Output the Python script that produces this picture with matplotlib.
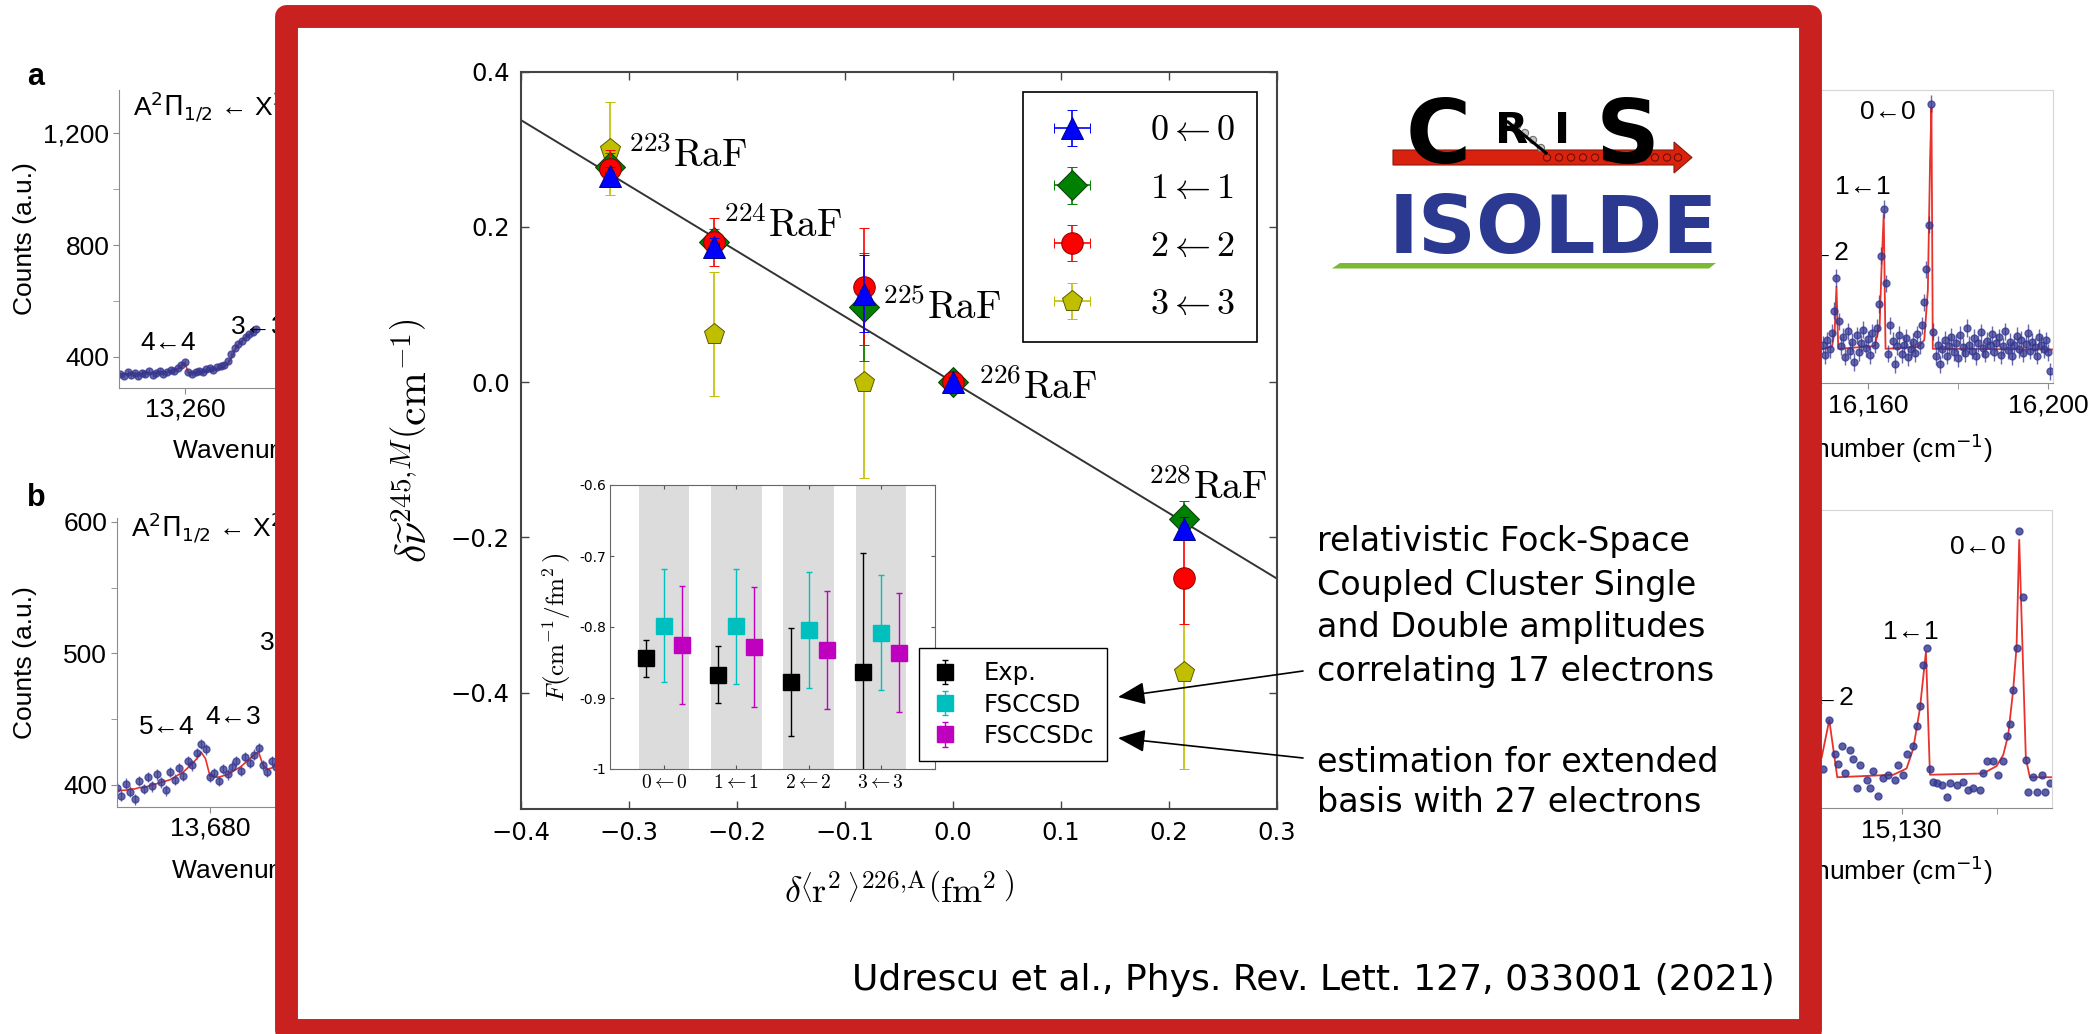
import numpy as np
import matplotlib
matplotlib.use("Agg")
import matplotlib.pyplot as plt
from matplotlib.patches import Rectangle, Polygon, Circle

# ---------------- isotope shifts of RaF vs. change in mean-square charge radius
isotopes = ["223", "224", "225", "226", "228"]
drms = [-0.318, -0.221, -0.082, 0.0, 0.214]          # delta<r^2>^{226,A} (fm^2)
drms_err = [0.004, 0.004, 0.004, 0.004, 0.004]
shift_00 = [0.265, 0.174, 0.114, 0.0, -0.189]
err_00 = [0.012, 0.012, 0.050, 0.006, 0.015]
shift_11 = [0.277, 0.181, 0.097, 0.0, -0.176]
err_11 = [0.018, 0.016, 0.070, 0.006, 0.023]
shift_22 = [0.275, 0.181, 0.123, 0.0, -0.252]
err_22 = [0.024, 0.031, 0.075, 0.008, 0.060]
shift_33 = [0.301, 0.062, 0.0, 0.0, -0.374]
err_33 = [0.060, 0.080, 0.123, 0.008, 0.125]
F_fit = -0.844                                       # slope of the straight line
raf_label_x = [-0.301, -0.213, -0.066, 0.023, 0.181]
raf_label_y = [0.277, 0.187, 0.082, -0.022, -0.150]

# ---------------- inset: field-shift factor F per vibrational band
bands = [r"$0\leftarrow0$", r"$1\leftarrow1$", r"$2\leftarrow2$", r"$3\leftarrow3$"]
F_exp = [-0.844, -0.867, -0.877, -0.863]
F_exp_err = [0.026, 0.040, 0.076, 0.167]
F_sd = [-0.798, -0.799, -0.804, -0.808]
F_sd_err = [0.080, 0.081, 0.082, 0.081]
F_sdc = [-0.825, -0.828, -0.832, -0.836]
F_sdc_err = [0.083, 0.084, 0.083, 0.084]

# ---------------- background spectra (counts vs wavenumber)
# panel a, left part: scan start / step, counts and fit
al_start, al_step = 13251.0, 0.5
al_counts = [338, 332, 345, 336, 341, 330, 343, 337, 348, 335,
             342, 350, 338, 346, 352, 349, 360, 372, 380, 345,
             338, 347, 350, 344, 355, 358, 352, 362, 368, 372,
             385, 410, 432, 445, 458, 470, 482, 490, 500]
al_fit = [338, 338, 339, 339, 340, 340, 341, 341, 342, 342,
          343, 344, 345, 346, 348, 351, 356, 364, 378, 342,
          342, 343, 345, 346, 348, 350, 352, 355, 359, 364,
          374, 395, 425, 444, 458, 470, 480, 490, 500]
# panel b, left part
bl_start, bl_step = 13669.5, 0.5
bl_counts = [398, 392, 401, 395, 389, 403, 397, 406, 399, 408,
             402, 396, 410, 404, 413, 407, 418, 415, 424, 431,
             427, 406, 409, 403, 412, 408, 414, 418, 411, 421,
             417, 423, 428, 415, 410, 418, 414]
bl_fit = [396, 396, 396, 397, 397, 398, 398, 399, 400, 401,
          402, 403, 404, 406, 408, 410, 413, 416, 420, 425,
          420, 407, 406, 406, 407, 408, 410, 412, 414, 417,
          420, 423, 425, 415, 412, 413, 415]
# panel a, right part
ar_start, ar_step = 16150.0, 0.5
ar_counts = [262, 231, 275, 248, 296, 360, 455, 330, 258, 284,
             227, 301, 245, 270, 212, 289, 240, 266, 305, 251,
             278, 232, 296, 262, 310, 380, 520, 655, 440, 236,
             318, 274, 205, 258, 290, 234, 262, 281, 226, 249,
             270, 238, 292, 260, 318, 385, 480, 610, 960, 300,
             228, 262, 205, 248, 276, 230, 259, 284, 241, 268,
             222, 290, 255, 238, 310, 262, 244, 281, 229, 266,
             298, 251, 236, 274, 260, 292, 241, 268, 283, 232,
             257, 301, 246, 270, 228, 262, 288, 249, 276, 238,
             265, 296, 244, 271, 256, 230, 283, 262, 248, 275,
             240, 185]
ar_fit_x = [16149.5, 16152.0, 16152.6, 16153.0, 16153.4, 16161.5, 16162.6,
            16163.0, 16163.5, 16163.9, 16171.0, 16172.5, 16173.3, 16173.8,
            16174.1, 16174.4, 16201.1]
ar_fit_y = [248, 256, 300, 430, 250, 258, 320, 480, 640, 250, 255, 275,
            420, 800, 950, 250, 248]
# panel b, right part
br_x = [15125.84, 15126.19, 15126.49, 15126.66, 15126.84, 15127.02, 15127.28,
        15127.45, 15127.63, 15127.81, 15128.16, 15128.33, 15128.51, 15128.77,
        15129.03, 15129.29, 15129.65, 15129.82, 15130.08, 15130.26, 15130.61,
        15130.79, 15130.96, 15131.14, 15131.32, 15131.49, 15131.66, 15131.84,
        15132.11, 15132.37, 15132.54, 15132.89, 15133.24, 15133.51, 15133.77,
        15134.12, 15134.29, 15134.47, 15134.82, 15135.08, 15135.35, 15135.53,
        15135.70, 15135.87, 15136.05, 15136.19, 15136.37, 15136.54, 15136.66,
        15136.93, 15137.11, 15137.37, 15137.54, 15137.81]
br_counts = [412, 451, 424, 416, 430, 408, 427, 420, 396, 415, 403, 396, 410,
             390, 404, 407, 403, 415, 407, 424, 430, 446, 462, 495, 509, 412,
             401, 400, 399, 389, 400, 399, 401, 395, 396, 395, 408, 418, 418,
             407, 418, 438, 448, 475, 509, 603, 550, 419, 393, 405, 393, 407,
             393, 400]
br_fit_x = [15125.79, 15126.19, 15126.61, 15129.56, 15130.26, 15130.61,
            15130.96, 15131.28, 15131.49, 15134.29, 15135.00, 15135.35,
            15135.61, 15135.87, 15136.05, 15136.19, 15136.54, 15136.75,
            15137.89]
br_fit_y = [421, 451, 405, 407, 412, 428, 460, 506, 407, 408, 414, 423, 439,
            475, 510, 596, 420, 405, 405]

# peak labels: (text, x, y)
al_peaks = [("4←4", 13257.7, 449), ("3←3", 13270.3, 506)]
bl_peaks = [("5←4", 13675.1, 444), ("4←3", 13682.6, 452), ("3←2", 13688.8, 508)]
ar_peaks = [("0←0", 16164.4, 937), ("1←1", 16158.9, 720), ("2←2", 16156.0, 528)]
br_peaks = [("0←0", 15134.0, 590), ("1←1", 15130.5, 522), ("2←2", 15127.5, 469)]

W, H = 2096, 1034
plt.rcParams["mathtext.fontset"] = "cm"
fig = plt.figure(figsize=(W / 100, H / 100), dpi=100)
fig.patch.set_facecolor("white")


def px_axes(x0, y0, x1, y1, z):
    # axes placed by pixel box (top-left origin)
    return fig.add_axes([x0 / W, 1 - y1 / H, (x1 - x0) / W, (y1 - y0) / H], zorder=z)


sans = ["Liberation Sans", "DejaVu Sans"]
pts_col = "#34378f"
fit_col = "#e8322b"


def spectrum(box, left_side, xt, xtl, xminor, xlim, ylim):
    a = px_axes(*box, z=0)
    a.set_facecolor("none")
    for s in ("top", "right"):
        a.spines[s].set_visible(not left_side)
        a.spines[s].set_color("#d5d5d5")
    for s in ("left", "bottom"):
        a.spines[s].set_color("#8c8c8c")
    a.set_xlim(*xlim)
    a.set_ylim(*ylim)
    a.set_xticks(xt, xtl, fontfamily=sans, fontsize=19)
    a.set_xticks(xminor, minor=True)
    a.tick_params(which="both", direction="out", length=4, color="#8c8c8c", pad=3)
    a.set_xlabel("Wavenumber (cm$^{-1}$)", fontfamily=sans, fontsize=19,
                 math_fontfamily="dejavusans")
    return a


def peak_labels(a, peaks, ha="center"):
    for txt, x, y in peaks:
        a.text(x, y, txt, fontfamily=sans, fontsize=19, ha=ha, va="center")


# panel a, left
a1 = spectrum((119, 90, 471, 388), True, [13260, 13300], ["13,260", "13,300"],
              [13280], (13250.8, 13290.8), (288, 1355))
a1.set_yticks([400, 800, 1200], ["400", "800", "1,200"], fontfamily=sans, fontsize=19)
a1.set_yticks([600, 1000], minor=True)
x_al = al_start + al_step * np.arange(len(al_counts))
a1.errorbar(x_al, al_counts, yerr=8, fmt="o", ms=5, color=pts_col, alpha=0.75,
            elinewidth=1)
a1.plot(x_al, al_fit, color=fit_col, lw=1.2)
peak_labels(a1, al_peaks)
a1.set_ylabel("Counts (a.u.)", fontfamily=sans, fontsize=19)
a1.yaxis.set_label_coords(-0.233, 0.5)
a1.xaxis.set_label_coords(0.5, -0.15)
a1.text(0.04, 0.943, "A$^2\\Pi_{1/2}$ ← X$^2\\Sigma^+$", transform=a1.transAxes,
        fontfamily=sans, fontsize=19, math_fontfamily="dejavusans", va="center")
fig.text(27 / W, 1 - 77 / H, "a", fontfamily=sans, fontsize=22, fontweight="bold",
         va="center")

# panel b, left
b1 = spectrum((117, 518, 471, 806.7), True, [13680, 13700], ["13,680", "13,700"],
              [13690], (13669.5, 13709.5), (383.5, 603))
b1.set_yticks([400, 500, 600], ["400", "500", "600"], fontfamily=sans, fontsize=19)
b1.set_yticks([450, 550], minor=True)
x_bl = bl_start + bl_step * np.arange(len(bl_counts))
b1.errorbar(x_bl, bl_counts, yerr=4, fmt="o", ms=5, color=pts_col, alpha=0.75,
            elinewidth=1)
b1.plot(x_bl, bl_fit, color=fit_col, lw=1.2)
peak_labels(b1, bl_peaks)
b1.set_ylabel("Counts (a.u.)", fontfamily=sans, fontsize=19)
b1.yaxis.set_label_coords(-0.226, 0.5)
b1.xaxis.set_label_coords(0.5, -0.16)
b1.text(0.04, 0.966, "A$^2\\Pi_{1/2}$ ← X$^2\\Sigma^+$", transform=b1.transAxes,
        fontfamily=sans, fontsize=19, math_fontfamily="dejavusans", va="center")
fig.text(27 / W, 1 - 498 / H, "b", fontfamily=sans, fontsize=22, fontweight="bold",
         va="center")

# panel a, right
a2 = spectrum((1687, 90, 2053, 383.3), False, [16120, 16160, 16200],
              ["16,120", "16,160", "16,200"], [16140, 16180], (16119.8, 16201.1),
              (150, 1000))
a2.set_yticks([])
x_ar = ar_start + ar_step * np.arange(len(ar_counts))
a2.plot(ar_fit_x, ar_fit_y, color=fit_col, lw=1.3)
a2.errorbar(x_ar, ar_counts, yerr=25, fmt="o", ms=5, color=pts_col, alpha=0.75,
            elinewidth=1)
peak_labels(a2, ar_peaks[:2])
peak_labels(a2, ar_peaks[2:], ha="right")
a2.xaxis.set_label_coords(0.5, -0.165)

# panel b, right
b2 = spectrum((1687, 510, 2051.7, 808.3), False, [15120, 15130],
              ["15,120", "15,130"], [15125, 15135], (15118.7, 15137.9), (380, 620))
b2.set_yticks([])
b2.plot(br_fit_x, br_fit_y, color=fit_col, lw=1.3)
b2.plot(br_x, br_counts, "o", ms=5, color=pts_col, alpha=0.8)
peak_labels(b2, br_peaks[:2])
peak_labels(b2, br_peaks[2:], ha="right")
b2.xaxis.set_label_coords(0.5, -0.153)

# ---------------- white panel with red frame, logo and notes
bg = px_axes(0, 0, W, H, z=1)
bg.set_xlim(0, W)
bg.set_ylim(H, 0)
bg.axis("off")
bg.add_patch(Rectangle((285.5, 15.5), 1524, 1014, fc="white", ec="#c8211f",
                       lw=16.5, joinstyle="round"))

# CRIS logo
bg.add_patch(Polygon([(1393, 150), (1674, 150), (1674, 142), (1692, 157.5),
                      (1674, 173), (1674, 165), (1393, 165)],
                     fc="#d8220e", ec="#8a1a0a", lw=0.8))
bg.text(1438, 163, "C", fontsize=64, fontweight="heavy", ha="center",
        va="baseline", color="k")
bg.text(1512, 143, "R", fontsize=31, fontweight="heavy", ha="center",
        va="baseline", color="k")
bg.text(1562, 143, "I", fontsize=31, fontweight="heavy", ha="center",
        va="baseline", color="k")
bg.text(1628, 163, "S", fontsize=64, fontweight="heavy", ha="center",
        va="baseline", color="k")
bg.plot([1508, 1546], [122, 153], color="k", lw=2.2)
for cx, cy in [(1517, 126), (1525, 133), (1533, 140), (1541, 148)]:
    bg.add_patch(Circle((cx, cy), 3.6, fc="#c4c4c4", ec="#707070", lw=0.8))
for cx in [1547, 1559, 1571, 1583, 1595, 1607, 1619, 1631, 1643, 1655, 1667, 1678]:
    bg.add_patch(Circle((cx, 157.5), 3.6, fc="#e0260f", ec="#6e0e04", lw=0.8))

# ISOLDE logo
bg.text(1553, 253, "ISOLDE", fontsize=58, fontweight="heavy", ha="center",
        va="baseline", color="#2b3990")
bg.add_patch(Polygon([(1332, 268.5), (1340, 263), (1716, 263), (1709, 268.5)],
                     fc="#7ab932", ec="none"))

note_font = dict(fontsize=24, color="k", ha="left", va="baseline")
for i, line in enumerate(["relativistic Fock-Space", "Coupled Cluster Single",
                          "and Double amplitudes", "correlating 17 electrons"]):
    bg.text(1317, 551.5 + 43 * i, line, **note_font)
for i, line in enumerate(["estimation for extended", "basis with 27 electrons"]):
    bg.text(1317, 771.5 + 40 * i, line, **note_font)
bg.text(1775, 990, "Udrescu et al., Phys. Rev. Lett. 127, 033001 (2021)",
        fontsize=26, ha="right", va="baseline")

# ---------------- main plot
ax = px_axes(521, 71.7, 1277, 809, z=2)
ax.set_facecolor("none")
ax.set_xlim(-0.4, 0.3)
ax.set_ylim(-0.55, 0.4)
ax.set_xticks([-0.4, -0.3, -0.2, -0.1, 0.0, 0.1, 0.2, 0.3])
ax.set_yticks([-0.4, -0.2, 0.0, 0.2, 0.4])
ax.tick_params(direction="in", top=True, right=True, length=6, width=1,
               labelsize=17.5, color="#444444")
ax.tick_params(axis="x", pad=9)
ax.tick_params(axis="y", pad=8)
for s in ax.spines.values():
    s.set_color("#444444")
    s.set_linewidth(1.5)
ax.axline((0, 0), slope=F_fit, color="#333333", lw=1.4, zorder=1)

series = [
    (shift_33, err_33, "p", (0.75, 0.75, 0.0), "#5a5a00", 3),
    (shift_11, err_11, "D", (0.0, 0.5, 0.0), "#0a3a0a", 4),
    (shift_22, err_22, "o", (1.0, 0.0, 0.0), "#8a0000", 5),
    (shift_00, err_00, "^", (0.0, 0.0, 1.0), "#00008a", 6),
]
handles = {}
for y, e, mk, col, edge, z in series:
    handles[mk] = ax.errorbar(drms, y, yerr=e, xerr=drms_err, fmt=mk, ms=15.5,
                              color=col, mec=edge, mew=0.7, elinewidth=1.2,
                              capsize=3.5, capthick=1.2, zorder=z)
for iso, lx, ly in zip(isotopes, raf_label_x, raf_label_y):
    ax.text(lx, ly, r"$^{%s}\mathrm{RaF}$" % iso, fontsize=28, ha="left",
            va="baseline")

ax.set_xlabel(r"$\delta\left\langle\mathrm{r}^2\,\right\rangle^{226,\!\mathrm{A}}"
              r"\left(\mathrm{fm}^2\,\right)$", fontsize=26)
ax.xaxis.set_label_coords(0.5, -0.088)
ax.set_ylabel(r"$\delta\widetilde{\nu}^{245,\!M}\left(\mathrm{cm}^{-1}\right)$",
              fontsize=30)
ax.yaxis.set_label_coords(-0.112, 0.5)

leg = ax.legend([handles["^"], handles["D"], handles["o"], handles["p"]], bands,
                loc="upper right", bbox_to_anchor=(0.9735, 0.973), borderaxespad=0,
                prop=dict(size=26), fancybox=False, edgecolor="k", framealpha=1,
                numpoints=1, handlelength=1.5, handletextpad=1.4,
                labelspacing=0.66, borderpad=0.6)
leg.get_frame().set_linewidth(1.2)

# ---------------- inset with F factors
axi = px_axes(610, 485, 935, 769, z=3)
pos = np.arange(len(bands))
axi.set_xlim(-0.75, 3.75)
axi.set_ylim(-1, -0.6)
for p in pos:
    axi.axvspan(p - 0.35, p + 0.35, color="#dcdcdc", lw=0, zorder=0)
axi.errorbar(pos - 0.25, F_exp, yerr=F_exp_err, fmt="s", ms=11, color="k",
             elinewidth=1, capsize=2, label="Exp.")
axi.errorbar(pos, F_sd, yerr=F_sd_err, fmt="s", ms=11, color=(0, 0.75, 0.75),
             elinewidth=1, capsize=2, label="FSCCSD")
axi.errorbar(pos + 0.25, F_sdc, yerr=F_sdc_err, fmt="s", ms=11,
             color=(0.75, 0, 0.75), elinewidth=1, capsize=2, label="FSCCSDc")
axi.set_yticks([-1, -0.9, -0.8, -0.7, -0.6], ["-1", "-0.9", "-0.8", "-0.7", "-0.6"],
               fontsize=10)
axi.set_xticks(pos, bands, fontsize=14)
axi.tick_params(direction="in", top=True, right=True, length=3, color="#555555",
                pad=3)
for s in axi.spines.values():
    s.set_color("#666666")
axi.set_ylabel(r"$F\left(\mathrm{cm}^{-1}/\mathrm{fm}^2\,\right)$", fontsize=18)
axi.yaxis.set_label_coords(-0.115, 0.5)
ileg = axi.legend(loc="upper left", bbox_to_anchor=(919 / W, 1 - 648 / H),
                  bbox_transform=fig.transFigure, borderaxespad=0, fontsize=17.5,
                  fancybox=False, edgecolor="k", framealpha=1, numpoints=1,
                  handlelength=1.0, handletextpad=1.1, labelspacing=0.3,
                  borderpad=0.55)
ileg.get_frame().set_linewidth(1.0)

# ---------------- arrows from the notes to the inset legend
top = px_axes(0, 0, W, H, z=5)
top.set_xlim(0, W)
top.set_ylim(H, 0)
top.axis("off")
arrow = dict(arrowstyle="-|>,head_length=0.6,head_width=0.25", color="k", lw=1.2,
             mutation_scale=28, shrinkA=0, shrinkB=0)
top.annotate("", xy=(1118, 697), xytext=(1303, 671), arrowprops=arrow)
top.annotate("", xy=(1118, 738), xytext=(1303, 758), arrowprops=arrow)

fig.savefig("out.png", dpi=100)
